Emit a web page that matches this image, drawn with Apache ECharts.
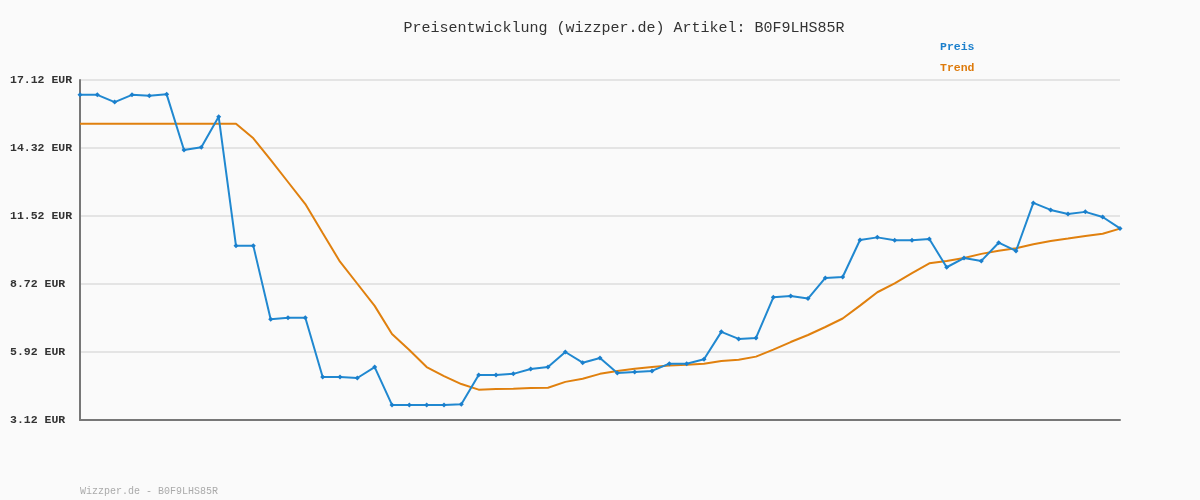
<!DOCTYPE html>
<html>
<head>
<meta charset="utf-8">
<script src="https://cdn.jsdelivr.net/npm/echarts@6/dist/echarts.min.js"></script>
<style>html,body{margin:0;padding:0;background:#fafafa}#c{width:1200px;height:500px}</style>
</head>
<body>
<div id="c"></div>
<script>
const categories = Array.from({length: 61}, (_, i) => String(i + 1));
const preis = [16.51,16.51,16.21,16.51,16.47,16.53,14.24,14.35,15.61,10.29,
  10.29,7.27,7.33,7.33,4.89,4.89,4.85,5.30,3.74,3.74,
  3.74,3.74,3.77,4.97,4.97,5.02,5.22,5.30,5.92,5.48,
  5.67,5.06,5.10,5.14,5.44,5.44,5.62,6.75,6.46,6.50,
  8.17,8.23,8.12,8.97,9.01,10.53,10.64,10.52,10.52,10.57,
  9.41,9.79,9.67,10.42,10.08,12.06,11.77,11.60,11.69,11.48,
  11.01];
const trend = [15.32,15.32,15.32,15.32,15.32,15.32,15.32,15.32,15.32,15.32,
  14.72,13.83,12.92,12.01,10.82,9.64,8.73,7.82,6.66,6.00,
  5.30,4.93,4.60,4.37,4.40,4.41,4.44,4.45,4.69,4.82,
  5.02,5.14,5.23,5.30,5.36,5.40,5.44,5.55,5.60,5.73,
  6.02,6.33,6.62,6.95,7.30,7.83,8.38,8.75,9.17,9.57,
  9.67,9.79,9.96,10.09,10.19,10.36,10.49,10.59,10.70,10.79,
  11.00];
const yMin = 3.12, yMax = 17.12, yStep = 2.8;
const titleText = 'Preisentwicklung (wizzper.de) Artikel: B0F9LHS85R';
const footerText = 'Wizzper.de - B0F9LHS85R';

const mono = '"Liberation Mono", "DejaVu Sans Mono", monospace';
const chart = echarts.init(document.getElementById('c'));
chart.setOption({
  backgroundColor: '#fafafa',
  animation: false,
  title: [
    {text: titleText, left: 619, top: 16, textAlign: 'center',
     textStyle: {fontFamily: mono, fontSize: 15, fontWeight: 'normal', color: '#333'}},
    {text: footerText, left: 75, top: 481,
     textStyle: {fontFamily: mono, fontSize: 10, fontWeight: 'normal', color: '#aaa'}}
  ],
  legend: {
    orient: 'vertical', left: 930, top: 36, itemWidth: 0, itemHeight: 0, itemGap: 9,
    icon: 'rect',
    data: [
      {name: 'Preis', textStyle: {color: '#1a7fcc'}},
      {name: 'Trend', textStyle: {color: '#dd7a0b'}}
    ],
    textStyle: {fontFamily: mono, fontSize: 11.5, fontWeight: 'bold'}
  },
  grid: {left: 80, right: 80, top: 80, bottom: 80, containLabel: false},
  xAxis: {
    type: 'category', data: categories, boundaryGap: false,
    axisLine: {lineStyle: {color: '#777', width: 2}},
    axisTick: {show: false}, axisLabel: {show: false}, splitLine: {show: false}
  },
  yAxis: {
    type: 'value', min: yMin, max: yMax, interval: yStep,
    axisLine: {show: true, lineStyle: {color: '#777', width: 2}},
    axisTick: {show: false},
    splitLine: {show: true, lineStyle: {color: '#e4e4e4', width: 2}},
    axisLabel: {
      align: 'left', margin: 70,
      fontFamily: mono, fontSize: 11.5, fontWeight: 'bold', color: '#333',
      formatter: v => v.toFixed(2) + ' EUR'
    }
  },
  series: [
    {name: 'Preis', type: 'line', data: preis, z: 3,
     symbol: 'diamond', symbolSize: 5, showSymbol: true,
     itemStyle: {color: '#1a7fcc'},
     lineStyle: {color: '#2088d0', width: 2}},
    {name: 'Trend', type: 'line', data: trend, z: 2,
     symbol: 'none',
     itemStyle: {color: '#dd7a0b'},
     lineStyle: {color: '#e0800e', width: 2}}
  ]
});
</script>
</body>
</html>
